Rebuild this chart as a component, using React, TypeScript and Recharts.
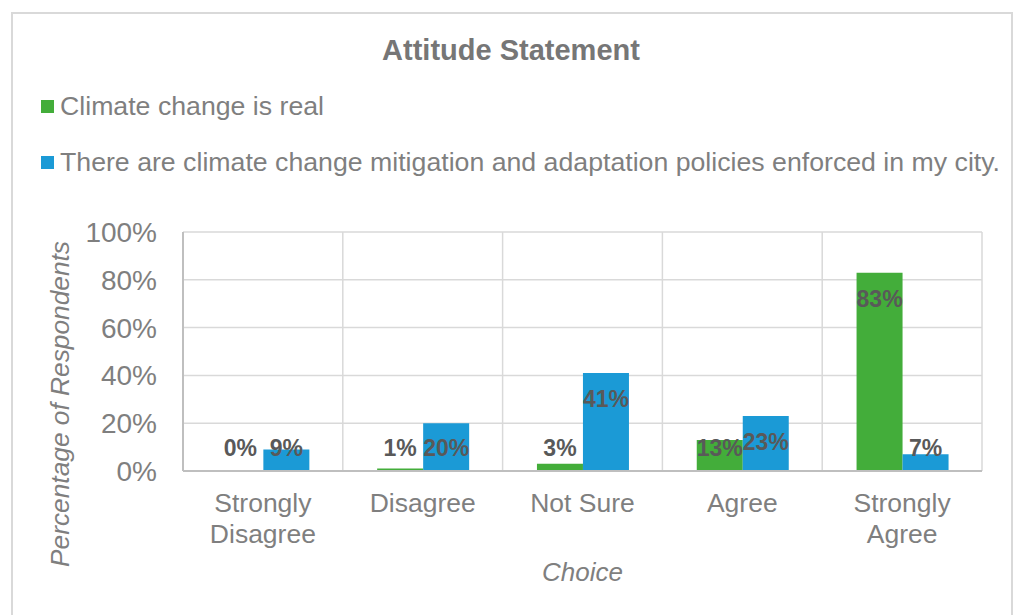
import { BarChart, Bar, XAxis, YAxis, CartesianGrid, LabelList } from 'recharts';

const choices = ['Strongly Disagree', 'Disagree', 'Not Sure', 'Agree', 'Strongly Agree'];
// tick labels as Excel wraps them under the narrow categories
const choiceTickLines = [['Strongly', 'Disagree'], ['Disagree'], ['Not Sure'], ['Agree'], ['Strongly', 'Agree']];
const climateIsReal = [0, 1, 3, 13, 83];
const policiesEnforced = [9, 20, 41, 23, 7];
const yTicks = [0, 20, 40, 60, 80, 100];

const seriesNames = [
    'Climate change is real',
    'There are climate change mitigation and adaptation policies enforced in my city.',
];
const GREEN = '#43ad3a';
const BLUE = '#1b9ad6';
const TEXT = '#7f7f7f';
const FONT = '"Liberation Sans", Arial, sans-serif';

const chartData = choices.map((c, i) => ({
    choice: c,
    idx: i,
    real: climateIsReal[i],
    policy: policiesEnforced[i],
}));

// data label: a bit below the bar top, never lower than just above the baseline
const BarValueLabel = (props: any) => {
    const { x, y, width, height, value } = props;
    const cy = Math.min(y + 26, y + height - 23.5);
    return (
        <text
            x={x + width / 2}
            y={cy}
            textAnchor="middle"
            dominantBaseline="central"
            fill="#595959"
            fontSize={23}
            fontWeight="bold"
            fontFamily={FONT}
        >
            {value}%
        </text>
    );
};

const ChoiceTick = (props: any) => {
    const { x, y, payload } = props;
    const lines = choiceTickLines[payload.index] ?? [payload.value];
    return (
        <text x={x} y={y} textAnchor="middle" fill={TEXT} fontSize={26.5} fontFamily={FONT}>
            {lines.map((l: string, i: number) => (
                <tspan key={i} x={x} dy={i === 0 ? 41 : 31}>
                    {l}
                </tspan>
            ))}
        </text>
    );
};

export default function App() {
    return (
        <div style={{ position: 'absolute', left: 0, top: 0, width: 1013, height: 615, overflow: 'hidden', background: '#fff', fontFamily: FONT }}>
            <div style={{ position: 'absolute', left: 11, top: 12, width: 998, height: 620, border: '2px solid #d9d9d9' }} />
            <div style={{ position: 'absolute', left: 0, top: 32, width: 1022, textAlign: 'center', fontSize: 29, fontWeight: 'bold', color: '#767676', lineHeight: '36px' }}>
                Attitude Statement
            </div>
            {[GREEN, BLUE].map((color, i) => (
                <div key={i} style={{ position: 'absolute', left: 41, top: 90 + i * 56, height: 32, display: 'flex', alignItems: 'center', fontSize: 26.7, color: TEXT, whiteSpace: 'nowrap' }}>
                    <span style={{ display: 'inline-block', width: 13, height: 13, background: color, marginRight: 6 }} />
                    {seriesNames[i]}
                </div>
            ))}
            <div style={{ position: 'absolute', left: 0, top: 0 }}>
                <BarChart
                    width={1013}
                    height={615}
                    data={chartData}
                    margin={{ top: 232, right: 31, bottom: 34, left: 83 }}
                    barCategoryGap="21.5%"
                    barGap={0}
                >
                    <XAxis xAxisId="grid" type="number" dataKey="idx" domain={[0, 5]} ticks={[0, 1, 2, 3, 4, 5]} hide />
                    <CartesianGrid xAxisId="grid" stroke="#d9d9d9" strokeWidth={1.5} />
                    <XAxis
                        dataKey="choice"
                        height={110}
                        tickLine={false}
                        tickSize={0}
                        tickMargin={0}
                        interval={0}
                        axisLine={{ stroke: '#bfbfbf', strokeWidth: 2 }}
                        tick={<ChoiceTick />}
                        label={{
                            content: (p: any) => {
                                const vb = p.viewBox;
                                return (
                                    <text x={vb.x + vb.width / 2} y={vb.y + 101} textAnchor="middle" dominantBaseline="central" fill={TEXT} fontSize={26} fontStyle="italic" fontFamily={FONT}>
                                        Choice
                                    </text>
                                );
                            },
                        }}
                    />
                    <YAxis
                        width={100}
                        domain={[0, 100]}
                        ticks={yTicks}
                        tickFormatter={(v: number) => `${v}%`}
                        tickLine={false}
                        tickSize={0}
                        tickMargin={26}
                        axisLine={{ stroke: '#bfbfbf', strokeWidth: 2 }}
                        tick={{ fill: TEXT, fontSize: 28, fontFamily: FONT }}
                        label={{
                            content: (p: any) => {
                                const vb = p.viewBox;
                                const cx = vb.x - 23;
                                const cy = vb.y + vb.height / 2 + 52.5;
                                return (
                                    <text x={cx} y={cy} transform={`rotate(-90 ${cx} ${cy})`} textAnchor="middle" dominantBaseline="central" fill={TEXT} fontSize={26.3} fontStyle="italic" fontFamily={FONT}>
                                        Percentage of Respondents
                                    </text>
                                );
                            },
                        }}
                    />
                    <Bar dataKey="real" name={seriesNames[0]} fill={GREEN} minPointSize={0.01} isAnimationActive={false}>
                        <LabelList dataKey="real" content={<BarValueLabel />} />
                    </Bar>
                    <Bar dataKey="policy" name={seriesNames[1]} fill={BLUE} minPointSize={0.01} isAnimationActive={false}>
                        <LabelList dataKey="policy" content={<BarValueLabel />} />
                    </Bar>
                </BarChart>
            </div>
        </div>
    );
}
